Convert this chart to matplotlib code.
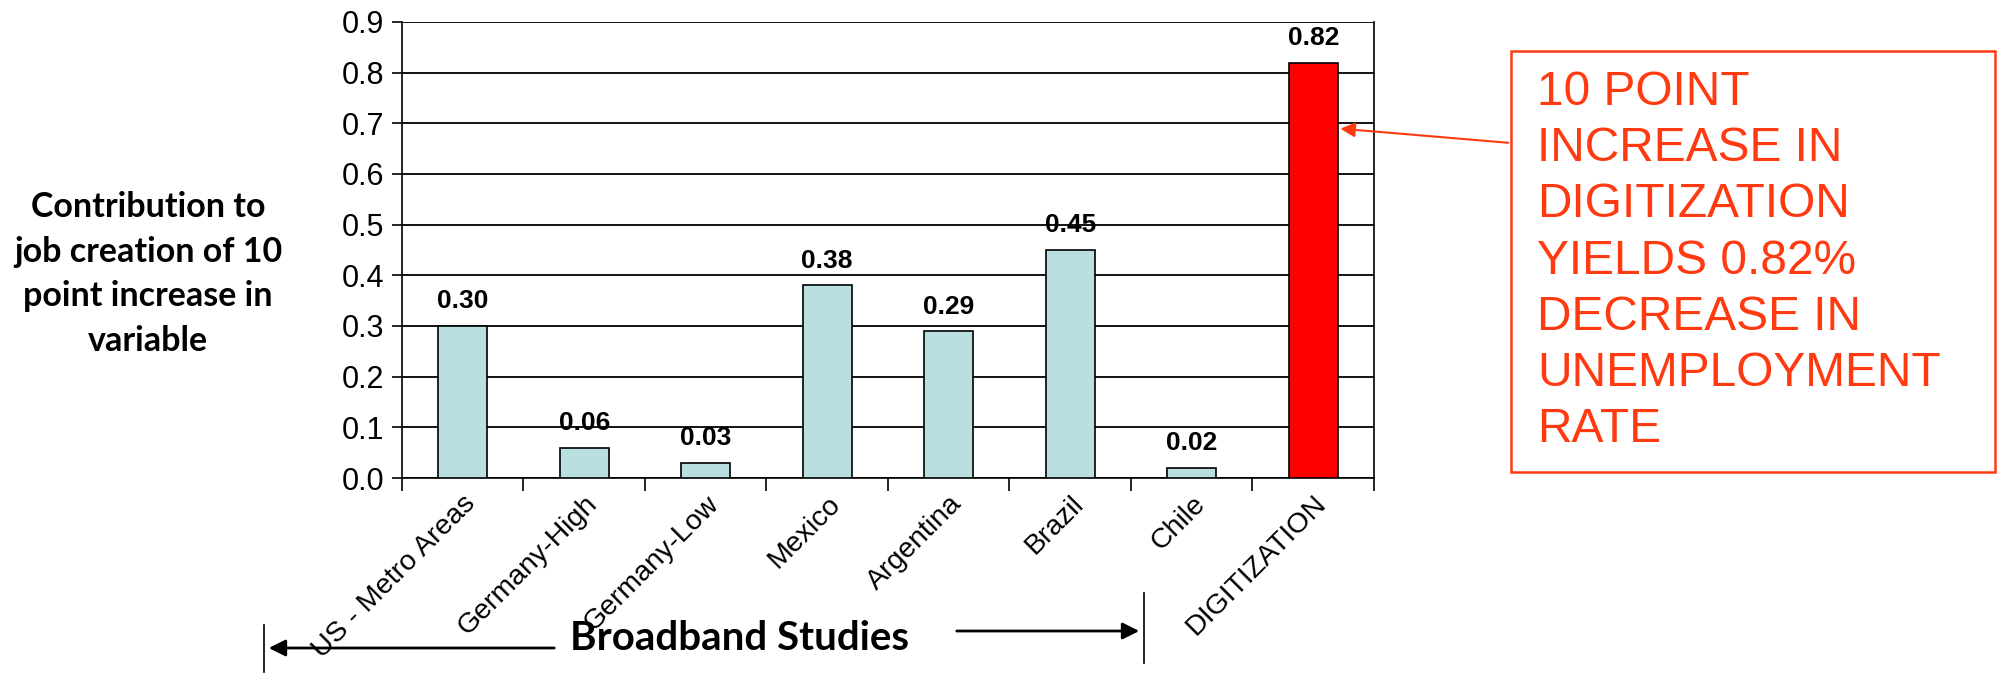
import matplotlib
matplotlib.use("Agg")
import matplotlib.pyplot as plt
import numpy as np
from matplotlib.patches import Rectangle
from matplotlib.lines import Line2D

categories = ["US - Metro Areas", "Germany-High", "Germany-Low", "Mexico",
              "Argentina", "Brazil", "Chile", "DIGITIZATION"]
values = [0.30, 0.06, 0.03, 0.38, 0.29, 0.45, 0.02, 0.82]
value_labels = ["0.30", "0.06", "0.03", "0.38", "0.29", "0.45", "0.02", "0.82"]
bar_colors = ["#b9dfe1"] * 7 + ["#ff0000"]

ylabel = "Contribution to\njob creation of 10\npoint increase in\nvariable"
xlabel = "Broadband Studies"
note = "10 POINT\nINCREASE IN\nDIGITIZATION\nYIELDS 0.82%\nDECREASE IN\nUNEMPLOYMENT\nRATE"
note_color = "#ff3a10"

plt.rcParams['font.family'] = ['Liberation Sans', 'DejaVu Sans']

W, H = 1999, 674
fig = plt.figure(figsize=(W / 100, H / 100), dpi=100)
ax = fig.add_axes([402 / W, 1 - 478 / H, (1374 - 402) / W, (478 - 22) / H])

x = np.arange(len(categories))
ax.bar(x, values, 0.4, color=bar_colors, edgecolor='black', linewidth=1.2, zorder=3)

for xi, v, lab in zip(x, values, value_labels):
    ax.annotate(lab, (xi, v), xytext=(0, 9), textcoords='offset points',
                ha='center', va='bottom', fontsize=19, fontweight='bold')

ax.set_xlim(-0.5, len(categories) - 0.5)
ax.set_ylim(0, 0.9)
ax.set_yticks(np.arange(0, 0.91, 0.1))
ax.set_yticklabels([f"{t:.1f}" for t in np.arange(0, 0.91, 0.1)], fontsize=22)
ax.yaxis.grid(True, color='black', linewidth=1.3, zorder=0)
ax.tick_params(axis='y', length=7, width=1.2, pad=6)

ax.set_xticks(np.arange(-0.5, len(categories), 1.0))
ax.set_xticklabels([])
ax.tick_params(axis='x', which='major', length=9, width=1.2)
ax.set_xticks(x, minor=True)
ax.set_xticklabels(categories, minor=True, rotation=45, ha='right',
                   rotation_mode='anchor', fontsize=20.5)
ax.tick_params(axis='x', which='minor', length=0, pad=9)

ax.spines['top'].set_visible(False)
for s in ['left', 'right', 'bottom']:
    ax.spines[s].set_linewidth(1.2)

# y label (Calibri-like bold, left of axis)
fig.text(148 / W, 1 - 274 / H, ylabel, ha='center', va='center',
         fontsize=24.5, fontweight='bold', family=['Lato', 'DejaVu Sans'],
         linespacing=1.48)

# Broadband studies bracket
fig.text(740 / W, 1 - 638 / H, xlabel, ha='center', va='center',
         fontsize=29, fontweight='bold', family=['Lato', 'DejaVu Sans'])
fig.add_artist(Line2D([264 / W, 264 / W], [1 - 625 / H, 1 - 672 / H],
                      transform=fig.transFigure, color='black', lw=1.2))
fig.add_artist(Line2D([1144 / W, 1144 / W], [1 - 593 / H, 1 - 663 / H],
                      transform=fig.transFigure, color='black', lw=1.2))
fig.add_artist(plt.Annotation("", xy=(266 / W, 1 - 648 / H), xytext=(557 / W, 1 - 648 / H),
                              xycoords='figure fraction', textcoords='figure fraction',
                              arrowprops=dict(arrowstyle='-|>', color='black', lw=2,
                                              mutation_scale=25)))
fig.add_artist(plt.Annotation("", xy=(1142 / W, 1 - 631 / H), xytext=(954 / W, 1 - 631 / H),
                              xycoords='figure fraction', textcoords='figure fraction',
                              arrowprops=dict(arrowstyle='-|>', color='black', lw=2,
                                              mutation_scale=25)))

# note box and arrow
fig.add_artist(Rectangle((1511 / W, 1 - 472 / H), (1995 - 1511) / W, (472 - 51) / H,
                         transform=fig.transFigure, fill=False,
                         edgecolor=note_color, linewidth=1.8))
fig.text(1537 / W, 1 - 70 / H, note, ha='left', va='top', fontsize=34.5,
         color=note_color, linespacing=1.32)
ax.annotate("", xy=(7.2, 0.69), xytext=(1511 / W, 1 - 143 / H),
            textcoords='figure fraction', annotation_clip=False,
            arrowprops=dict(arrowstyle='-|>', color=note_color, lw=1.5,
                            mutation_scale=22))

fig.savefig("out.png", dpi=100)
